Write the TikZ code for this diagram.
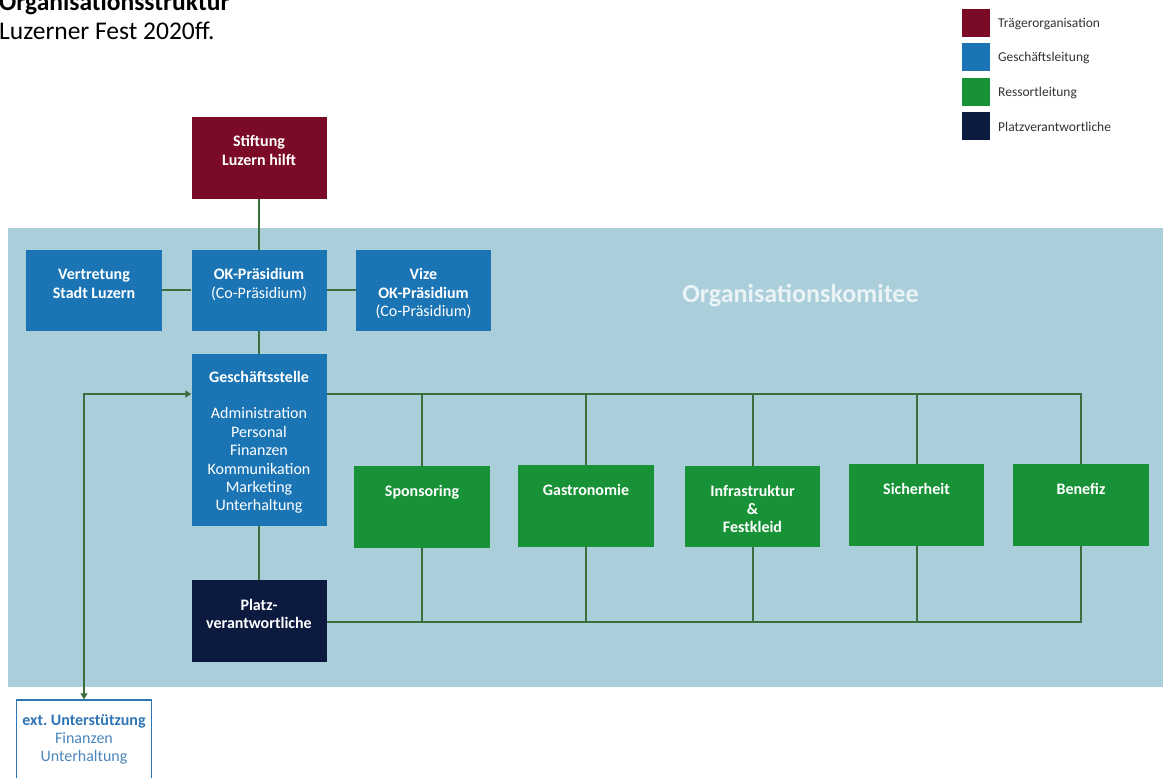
\documentclass[tikz,border=0pt]{standalone}
\usepackage{fontspec}
\setmainfont{Carlito}
\usetikzlibrary{arrows.meta}
\frenchspacing

\definecolor{traeger}{HTML}{7A0A26}
\definecolor{gleitung}{HTML}{1B75B5}
\definecolor{ressort}{HTML}{189236}
\definecolor{platzcol}{HTML}{0D1A3F}
\definecolor{okbg}{HTML}{ABCFDA}
\definecolor{okword}{HTML}{EAF3F6}
\definecolor{connline}{HTML}{3A6E3E}
\definecolor{extblue}{HTML}{2E75B6}
\definecolor{extsoft}{HTML}{4A86BC}
\definecolor{legtextcol}{HTML}{333333}

% box contents: fixed-size minipage, text hung from the top edge
\newcommand\boxtext[4][30pt]{%
  \begin{minipage}[c][#3][t]{#2}\centering\rule{0pt}{#1}#4\end{minipage}}

\tikzset{
  orgbox/.style={rectangle, inner sep=0pt, text=white,
    font=\fontsize{16}{18.4}\selectfont},
  conn/.style={draw=connline, line width=2pt},
  legsq/.style={rectangle, inner sep=0pt, minimum size=28pt},
  legtext/.style={anchor=west, inner sep=0pt, text=legtextcol,
    font=\fontsize{13.5}{16}\selectfont},
}

\begin{document}
\begin{tikzpicture}[x=1pt, y=-1pt]
\clip (0,0) rectangle (1163,778);
\fill[white] (0,0) rectangle (1163,778);

% committee area
\fill[okbg] (8,228) rectangle (1163,687);
\node[anchor=base, inner sep=0pt, text=okword,
  font=\fontsize{26}{30}\selectfont\bfseries] (okname) at (800.5,303) {Organisationskomitee};

% heading
\node[anchor=base west, inner sep=0pt, font=\fontsize{25.5}{30}\selectfont\bfseries]
  (title) at (-1,11) {Organisationsstruktur};
\node[anchor=base west, inner sep=0pt, font=\fontsize{25.5}{30}\selectfont]
  (subtitle) at (-1,40) {Luzerner Fest 2020ff.};

% legend
\node[legsq, fill=traeger]  (lg1) at (976,23)  {};
\node[legsq, fill=gleitung] (lg2) at (976,57)  {};
\node[legsq, fill=ressort]  (lg3) at (976,92)  {};
\node[legsq, fill=platzcol] (lg4) at (976,126) {};
\node[legtext] (lt1) at (998,24)  {Trägerorganisation};
\node[legtext] (lt2) at (998,58)  {Geschäftsleitung};
\node[legtext] (lt3) at (998,93)  {Ressortleitung};
\node[legtext] (lt4) at (998,127) {Platzverantwortliche};

% top levels
\node[orgbox, fill=traeger] (stift) at (259,158)
  {\boxtext{135pt}{82pt}{\bfseries Stiftung\\Luzern hilft}};
\node[orgbox, fill=gleitung] (vert) at (94,290.5)
  {\boxtext{136pt}{81pt}{\bfseries Vertretung\\Stadt Luzern}};
\node[orgbox, fill=gleitung] (okp) at (259,290.5)
  {\boxtext{135pt}{81pt}{\textbf{OK-Präsidium}\\(Co-Präsidium)}};
\node[orgbox, fill=gleitung] (vize) at (423.5,290.5)
  {\boxtext{135pt}{81pt}{\textbf{Vize}\\\textbf{OK-Präsidium}\\(Co-Präsidium)}};
\node[orgbox, fill=gleitung] (gs) at (259,440)
  {\boxtext[28pt]{135pt}{172pt}{\textbf{Geschäftsstelle}\\[18.4pt]Administration\\Personal\\Finanzen\\Kommunikation\\Marketing\\Unterhaltung}};
\node[orgbox, fill=platzcol] (platz) at (259,621)
  {\boxtext{135pt}{82pt}{\bfseries Platz-\\verantwortliche}};

% departments
\node[orgbox, fill=ressort] (spon) at (422,507)
  {\boxtext{136pt}{82pt}{\bfseries Sponsoring}};
\node[orgbox, fill=ressort] (gastro) at (586,506)
  {\boxtext{136pt}{82pt}{\bfseries Gastronomie}};
\node[orgbox, fill=ressort] (infra) at (752.5,506.5)
  {\boxtext{135pt}{81pt}{\bfseries Infrastruktur\\\&\\Festkleid}};
\node[orgbox, fill=ressort] (sich) at (916.5,505)
  {\boxtext{135pt}{82pt}{\bfseries Sicherheit}};
\node[orgbox, fill=ressort] (ben) at (1081,505)
  {\boxtext{136pt}{82pt}{\bfseries Benefiz}};

% external support
\node[orgbox, fill=white, draw=extblue, line width=1.4pt, text=extsoft] (ext) at (84,745)
  {\boxtext[25pt]{135pt}{90pt}{\textcolor{extblue}{\bfseries ext. Unterstützung}\\Finanzen\\Unterhaltung}};

% connectors
\coordinate (busT) at (1081,394);
\coordinate (busB) at (1081,622);
\draw[conn] (stift) -- (okp);
\draw[conn] (vert) -- (okp);
\draw[conn] (okp) -- (vize);
\draw[conn] (okp) -- (gs);
\draw[conn] (gs) -- (platz);
\draw[conn] (gs.east |- busT) -- (busT) -- (ben.north);
\foreach \d in {spon,gastro,infra,sich}
  \draw[conn] (\d |- busT) -- (\d.north);
\draw[conn] (platz.east |- busB) -- (busB) -- (ben.south);
\foreach \d in {spon,gastro,infra,sich}
  \draw[conn] (\d.south) -- (\d |- busB);
\draw[conn, {Triangle[length=6pt,width=7pt]}-{Triangle[length=6pt,width=7pt]}]
  (ext.north) |- (gs.west |- busT);
\end{tikzpicture}
\end{document}
